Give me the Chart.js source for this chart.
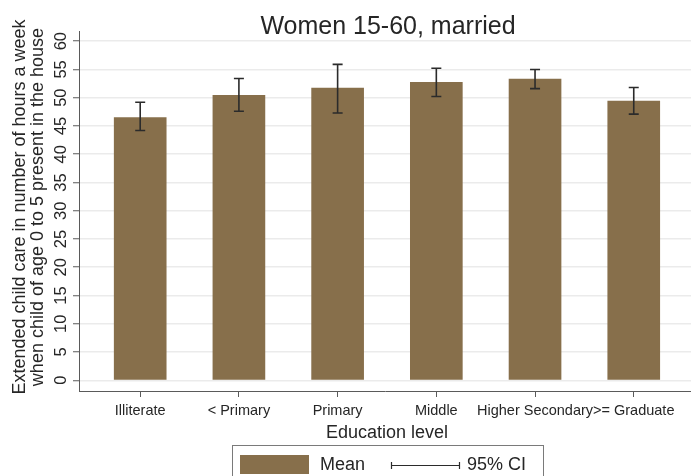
<!DOCTYPE html>
<html>
<head>
<meta charset="utf-8">
<script src="https://cdn.jsdelivr.net/npm/chart.js@4.4.1/dist/chart.umd.min.js"></script>
<style>
  html, body { margin: 0; padding: 0; background: #fff; overflow: hidden; }
  #wrap { position: relative; width: 691px; height: 476px; }
</style>
</head>
<body>
<div id="wrap"><canvas id="c"></canvas></div>
<script>
// Mean weekly hours of extended child care, by education level
const categories = ['Illiterate', '< Primary', 'Primary', 'Middle', 'Higher Secondary', '>= Graduate'];
const means  = [46.5, 50.4, 51.7, 52.7, 53.3, 49.4];
const ciLow  = [44.2, 47.6, 47.3, 50.2, 51.6, 47.1];
const ciHigh = [49.2, 53.4, 55.9, 55.2, 55.0, 51.8];
const yTicks = [0, 5, 10, 15, 20, 25, 30, 35, 40, 45, 50, 55, 60];

const titleText = 'Women 15-60, married';
const xTitle = 'Education level';
const yTitle = ['Extended child care in number of hours a week', 'when child of age 0 to 5 present in the house'];
const legendLabels = ['Mean', '95% CI'];

const BAR = '#876f4b';
const INK = '#262626';
const AXIS = '#5a5a5a';
const FONT = '"Liberation Sans", Arial, Helvetica, sans-serif';

// error bars on top of the bars
const errorBars = {
  id: 'errorBars',
  afterDatasetsDraw(chart) {
    const { ctx, scales: { x, y } } = chart;
    ctx.save();
    ctx.strokeStyle = '#2b2b2b';
    ctx.lineWidth = 1.6;
    categories.forEach((_, i) => {
      const px = x.getPixelForValue(i);
      const top = y.getPixelForValue(ciHigh[i]);
      const bot = y.getPixelForValue(ciLow[i]);
      ctx.beginPath();
      ctx.moveTo(px, top); ctx.lineTo(px, bot);
      ctx.moveTo(px - 5, top); ctx.lineTo(px + 5, top);
      ctx.moveTo(px - 5, bot); ctx.lineTo(px + 5, bot);
      ctx.stroke();
    });
    ctx.restore();
  }
};

// titles, tick labels and legend
const labels = {
  id: 'labels',
  afterDraw(chart) {
    const { ctx, chartArea: ca, scales: { x, y } } = chart;
    ctx.save();
    ctx.fillStyle = INK;

    // title
    ctx.font = '25px ' + FONT;
    ctx.textAlign = 'center';
    ctx.textBaseline = 'alphabetic';
    ctx.fillText(titleText, (ca.left + ca.right) / 2 + 3, 34);

    // category labels
    ctx.font = '14.5px ' + FONT;
    categories.forEach((c, i) => {
      ctx.fillText(c, x.getPixelForValue(i), 415);
    });

    // x axis title
    ctx.font = '18px ' + FONT;
    ctx.fillText(xTitle, (ca.left + ca.right) / 2 + 2, 438);

    // y tick labels, rotated
    ctx.font = '16.5px ' + FONT;
    yTicks.forEach(v => {
      ctx.save();
      ctx.translate(65.5, y.getPixelForValue(v));
      ctx.rotate(-Math.PI / 2);
      ctx.textAlign = 'center';
      ctx.fillText(String(v), 0, 0);
      ctx.restore();
    });

    // y axis title, two rotated lines
    ctx.font = '18px ' + FONT;
    [24.5, 43].forEach((bx, k) => {
      ctx.save();
      ctx.translate(bx, 207);
      ctx.rotate(-Math.PI / 2);
      ctx.textAlign = 'center';
      ctx.fillText(yTitle[k], 0, 0);
      ctx.restore();
    });

    // legend
    ctx.strokeStyle = '#7a7a7a';
    ctx.lineWidth = 1;
    ctx.strokeRect(232.5, 445.5, 311, 40);
    ctx.fillStyle = BAR;
    ctx.fillRect(240, 455, 69, 19);
    ctx.fillStyle = INK;
    ctx.textAlign = 'left';
    ctx.textBaseline = 'middle';
    ctx.font = '18px ' + FONT;
    ctx.fillText(legendLabels[0], 320, 465.5);
    ctx.fillText(legendLabels[1], 467, 465.5);
    ctx.strokeStyle = '#2b2b2b';
    ctx.lineWidth = 1.2;
    ctx.beginPath();
    ctx.moveTo(391, 465.5); ctx.lineTo(460, 465.5);
    ctx.moveTo(391.5, 462); ctx.lineTo(391.5, 469);
    ctx.moveTo(459.5, 462); ctx.lineTo(459.5, 469);
    ctx.stroke();
    ctx.restore();
  }
};

new Chart(document.getElementById('c'), {
  type: 'bar',
  data: {
    datasets: [{
      label: 'Mean',
      data: means.map((v, i) => ({ x: i, y: v })),
      backgroundColor: BAR,
      borderWidth: 0,
      barThickness: 52
    }]
  },
  options: {
    responsive: true,
    maintainAspectRatio: false,
    animation: false,
    devicePixelRatio: 1,
    layout: { padding: { left: 73, top: 31, right: 0, bottom: 79 } },
    plugins: { legend: { display: false }, tooltip: { enabled: false }, title: { display: false } },
    scales: {
      x: {
        type: 'linear',
        offset: false,
        min: -0.62,
        max: 5.58,
        afterBuildTicks(s) { s.ticks = categories.map((_, i) => ({ value: i })); },
        ticks: { display: false },
        grid: { offset: false, drawOnChartArea: false, drawTicks: true, tickLength: 6, tickColor: AXIS, tickWidth: 1 },
        border: { display: true, color: AXIS, width: 1 }
      },
      y: {
        min: -1.9,
        max: 61.8,
        afterBuildTicks(s) { s.ticks = yTicks.map(v => ({ value: v })); },
        ticks: { display: false },
        grid: { color: '#ebebeb', lineWidth: 1.5, drawTicks: true, tickLength: 6, tickColor: AXIS, tickWidth: 1 },
        border: { display: true, color: AXIS, width: 1 }
      }
    }
  },
  plugins: [errorBars, labels]
});
</script>
</body>
</html>
